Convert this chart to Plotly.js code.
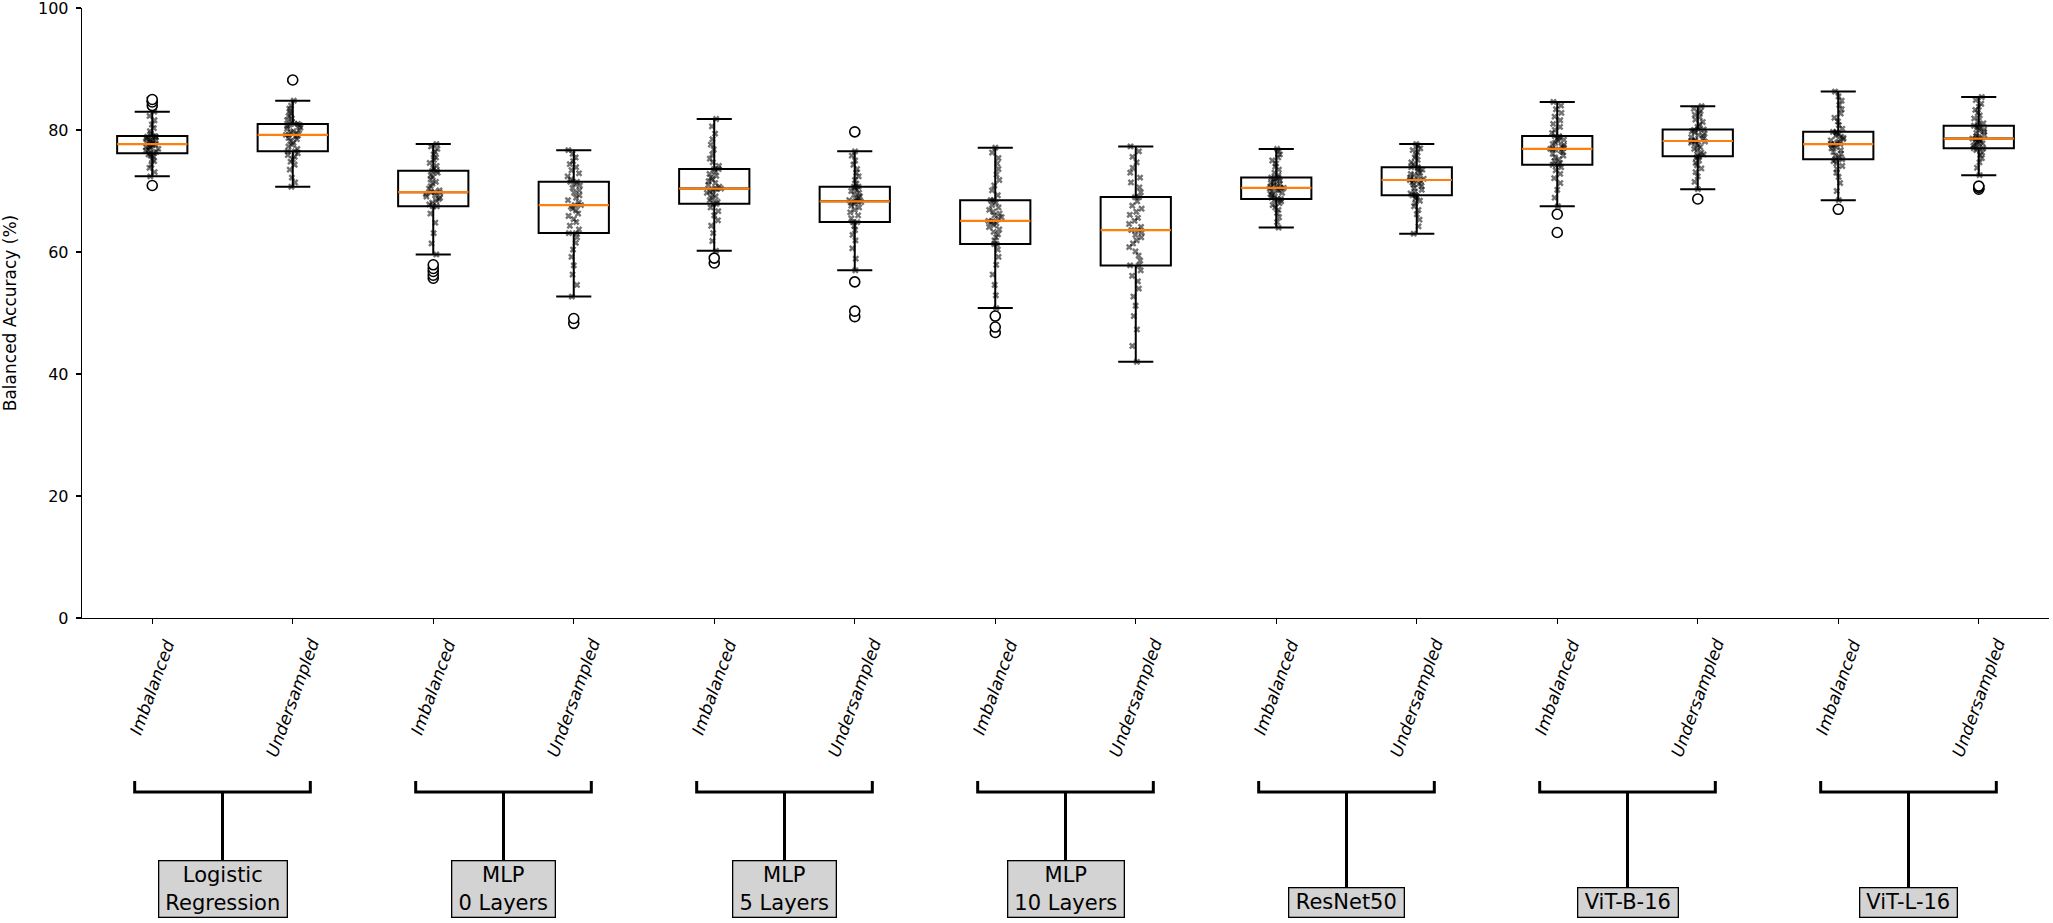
<!DOCTYPE html>
<html>
<head>
<meta charset="utf-8">
<script src="https://cdn.plot.ly/plotly-3.0.1.min.js"></script>
<style>html,body{margin:0;padding:0;background:#fff}</style>
</head>
<body>
<div id="chart" style="width:2053px;height:923px"></div>
<script>
// Model families (one bracket each) and the two training conditions per family
const modelNames = ['Logistic<br>Regression', 'MLP<br>0 Layers', 'MLP<br>5 Layers', 'MLP<br>10 Layers', 'ResNet50', 'ViT-B-16', 'ViT-L-16'];
const conditionNames = ['Imbalanced', 'Undersampled'];
const yTickValues = [0, 20, 40, 60, 80, 100];

// Balanced accuracy (%) per run
const logRegImbalanced = [70.9, 72.4, 73.1, 73.8, 74.3, 74.9, 75.2, 75.6, 75.8, 76.0, 76.2, 76.2, 76.4, 76.6, 76.8, 76.9, 77.1, 77.2, 77.3, 77.5, 77.6, 77.7, 77.7, 77.9, 78.0, 78.2, 78.3, 78.4, 78.6, 78.7, 78.8, 78.9, 79.0, 79.0, 79.4, 79.8, 80.3, 80.9, 81.6, 82.3, 83.0, 84.0, 84.6, 85.0];
const logRegUndersampled = [70.7, 71.4, 72.2, 73.5, 74.3, 74.8, 75.2, 75.6, 75.9, 76.2, 76.5, 76.5, 76.9, 77.3, 77.6, 77.9, 78.2, 78.5, 78.7, 78.9, 79.1, 79.2, 79.2, 79.4, 79.6, 79.8, 80.0, 80.2, 80.4, 80.6, 80.8, 80.9, 81.0, 81.0, 81.3, 81.6, 81.9, 82.3, 82.7, 83.1, 83.5, 84.0, 84.8, 88.2];
const mlp0Imbalanced = [55.7, 56.2, 56.8, 57.3, 57.9, 59.6, 61.4, 63.1, 64.8, 66.3, 67.5, 67.5, 67.8, 68.1, 68.4, 68.7, 68.9, 69.1, 69.3, 69.5, 69.7, 69.8, 69.8, 70.1, 70.4, 70.8, 71.2, 71.5, 71.9, 72.3, 72.6, 73.0, 73.3, 73.3, 73.7, 74.1, 74.6, 75.1, 75.5, 76.0, 76.4, 76.9, 77.3, 77.7];
const mlp0Undersampled = [48.3, 49.1, 52.7, 54.6, 56.3, 57.8, 59.2, 60.4, 61.5, 62.4, 63.1, 63.1, 63.7, 64.3, 64.9, 65.4, 65.9, 66.3, 66.8, 67.1, 67.4, 67.7, 67.7, 68.1, 68.5, 68.9, 69.3, 69.7, 70.1, 70.5, 70.9, 71.2, 71.5, 71.5, 71.9, 72.4, 72.9, 73.4, 73.9, 74.4, 74.9, 75.5, 76.1, 76.7];
const mlp5Imbalanced = [58.2, 59.0, 60.2, 61.8, 63.1, 64.3, 65.2, 66.0, 66.7, 67.3, 67.9, 67.9, 68.2, 68.5, 68.8, 69.1, 69.4, 69.7, 69.9, 70.1, 70.3, 70.4, 70.4, 70.7, 71.0, 71.3, 71.6, 71.9, 72.2, 72.5, 72.8, 73.2, 73.6, 73.6, 74.1, 74.7, 75.3, 76.0, 76.8, 77.6, 78.5, 79.4, 80.6, 81.8];
const mlp5Undersampled = [49.4, 50.3, 55.1, 57.0, 58.9, 60.6, 61.9, 62.8, 63.6, 64.3, 64.9, 64.9, 65.5, 66.0, 66.5, 66.9, 67.3, 67.6, 67.9, 68.1, 68.2, 68.3, 68.3, 68.5, 68.7, 68.9, 69.1, 69.4, 69.7, 70.0, 70.2, 70.5, 70.7, 70.7, 71.2, 71.8, 72.4, 73.0, 73.6, 74.3, 75.0, 75.8, 76.5, 79.7];
const mlp10Imbalanced = [46.8, 47.7, 49.5, 50.8, 52.9, 54.6, 56.3, 57.9, 59.2, 60.4, 61.3, 61.3, 61.9, 62.4, 62.9, 63.3, 63.7, 64.1, 64.4, 64.7, 64.9, 65.1, 65.1, 65.4, 65.7, 66.0, 66.3, 66.6, 66.9, 67.3, 67.7, 68.1, 68.5, 68.5, 69.3, 70.1, 70.9, 71.8, 72.7, 73.6, 74.5, 75.4, 76.3, 77.1];
const mlp10Undersampled = [42.0, 44.6, 47.3, 49.5, 51.2, 52.7, 54.0, 55.2, 56.1, 57.0, 57.8, 57.8, 58.6, 59.4, 60.1, 60.8, 61.4, 61.9, 62.4, 62.8, 63.2, 63.6, 63.6, 64.1, 64.6, 65.1, 65.6, 66.1, 66.6, 67.1, 67.6, 68.3, 69.0, 69.0, 69.8, 70.6, 71.4, 72.2, 73.0, 73.8, 74.7, 75.6, 76.5, 77.3];
const resnetImbalanced = [64.0, 64.9, 65.7, 66.4, 66.9, 67.3, 67.7, 68.0, 68.3, 68.5, 68.7, 68.7, 68.9, 69.1, 69.3, 69.5, 69.7, 69.9, 70.1, 70.2, 70.4, 70.5, 70.5, 70.7, 70.8, 71.0, 71.2, 71.3, 71.5, 71.7, 71.9, 72.1, 72.2, 72.2, 72.6, 73.0, 73.5, 74.0, 74.5, 75.0, 75.5, 76.0, 76.5, 76.9];
const resnetUndersampled = [63.0, 64.2, 65.3, 66.2, 66.9, 67.5, 68.0, 68.4, 68.8, 69.1, 69.3, 69.3, 69.6, 69.9, 70.2, 70.5, 70.8, 71.0, 71.2, 71.4, 71.6, 71.8, 71.8, 72.0, 72.2, 72.4, 72.6, 72.8, 73.0, 73.3, 73.5, 73.7, 73.9, 73.9, 74.3, 74.7, 75.1, 75.5, 75.9, 76.3, 76.7, 77.0, 77.4, 77.7];
const vitBImbalanced = [63.2, 66.2, 67.5, 68.9, 70.2, 71.3, 72.1, 72.8, 73.4, 73.9, 74.3, 74.3, 74.6, 74.9, 75.2, 75.5, 75.8, 76.1, 76.4, 76.6, 76.8, 76.9, 76.9, 77.1, 77.3, 77.5, 77.7, 77.9, 78.2, 78.4, 78.6, 78.8, 79.0, 79.0, 79.5, 80.0, 80.5, 81.0, 81.6, 82.2, 82.8, 83.4, 84.0, 84.6];
const vitBUndersampled = [68.7, 70.3, 71.5, 72.4, 73.1, 73.7, 74.2, 74.6, 75.0, 75.4, 75.7, 75.7, 76.0, 76.3, 76.6, 76.9, 77.2, 77.5, 77.7, 77.9, 78.1, 78.2, 78.2, 78.4, 78.6, 78.8, 79.0, 79.2, 79.4, 79.6, 79.8, 80.0, 80.1, 80.1, 80.5, 80.9, 81.3, 81.7, 82.1, 82.5, 82.8, 83.1, 83.5, 83.9];
const vitLImbalanced = [67.0, 68.5, 70.0, 71.3, 72.3, 73.0, 73.6, 74.1, 74.5, 74.9, 75.2, 75.2, 75.5, 75.8, 76.1, 76.4, 76.7, 77.0, 77.2, 77.4, 77.6, 77.7, 77.7, 77.9, 78.1, 78.3, 78.5, 78.7, 78.9, 79.1, 79.3, 79.5, 79.7, 79.7, 80.2, 80.8, 81.4, 82.0, 82.7, 83.4, 84.1, 84.8, 85.5, 86.3];
const vitLUndersampled = [70.3, 70.6, 70.8, 72.6, 73.8, 74.7, 75.4, 75.9, 76.3, 76.7, 77.0, 77.0, 77.2, 77.4, 77.6, 77.8, 77.9, 78.1, 78.2, 78.4, 78.5, 78.6, 78.6, 78.8, 79.0, 79.2, 79.5, 79.7, 79.9, 80.1, 80.3, 80.5, 80.7, 80.7, 81.1, 81.5, 81.9, 82.4, 82.8, 83.3, 83.8, 84.3, 84.9, 85.4];

const allRuns = [
  logRegImbalanced, logRegUndersampled,
  mlp0Imbalanced, mlp0Undersampled,
  mlp5Imbalanced, mlp5Undersampled,
  mlp10Imbalanced, mlp10Undersampled,
  resnetImbalanced, resnetUndersampled,
  vitBImbalanced, vitBUndersampled,
  vitLImbalanced, vitLUndersampled
];

// ---- layout geometry (pixels) ----
const W = 2053, H = 923;
const margin = {l: 82, r: 4, t: 8, b: 305};
const plotBottom = H - margin.b;
const plotHeight = H - margin.t - margin.b;
const paperY = px => (plotBottom - px) / plotHeight;

// ---- flatten runs into box-trace arrays ----
const positions = allRuns.map((_, i) => i + 1);
const xs = [], ys = [];
allRuns.forEach((runs, i) => runs.forEach(v => { xs.push(i + 1); ys.push(v); }));

function median(arr) {
  const s = arr.slice().sort((a, b) => a - b);
  const m = s.length / 2;
  return s.length % 2 ? s[Math.floor(m)] : (s[m - 1] + s[m]) / 2;
}
const medians = allRuns.map(median);

const traces = [
  // jittered individual runs
  {
    type: 'box', x: xs, y: ys, width: 0.5,
    boxpoints: 'all', jitter: 0.22, pointpos: 0,
    fillcolor: 'rgba(0,0,0,0)', line: {color: 'rgba(0,0,0,0)', width: 0},
    marker: {symbol: 'x', size: 6, color: 'black', opacity: 0.55},
    hoverinfo: 'skip', showlegend: false
  },
  // boxes, whiskers and outliers
  {
    type: 'box', x: xs, y: ys, width: 0.5, whiskerwidth: 0.5,
    boxpoints: 'outliers', jitter: 0, pointpos: 0,
    fillcolor: 'rgba(0,0,0,0)', line: {color: 'black', width: 2},
    marker: {symbol: 'circle', size: 10, color: 'white', line: {color: 'black', width: 1.6}},
    hoverinfo: 'skip', showlegend: false
  },
  // orange median lines
  {
    type: 'box', x: positions, q1: medians, median: medians, q3: medians,
    lowerfence: medians, upperfence: medians,
    width: 0.5, whiskerwidth: 0, boxpoints: false,
    fillcolor: 'rgba(0,0,0,0)', line: {color: '#ff7f0e', width: 2.2},
    hoverinfo: 'skip', showlegend: false
  }
];

// ---- condition labels under every tick ----
const annotations = [];
positions.forEach((p, i) => {
  annotations.push({
    x: p, xref: 'x', y: paperY(634), yref: 'paper',
    text: '<i>' + conditionNames[i % 2] + '</i>',
    textangle: -70, xanchor: 'center', yanchor: 'top',
    showarrow: false, font: {size: 17, color: 'black'}
  });
});

// ---- group brackets with model-name boxes ----
const labelFontSize = 21;
const measureCtx = document.createElement('canvas').getContext('2d');
measureCtx.font = labelFontSize + 'px "DejaVu Sans"';
const textWidth = s => Math.max(...s.split('<br>').map(line => measureCtx.measureText(line).width));

const shapes = [];
const bracketY = 792, bracketTip = 781, stemEnd = 905, halfSpan = 0.625;
modelNames.forEach((name, g) => {
  const c = 2 * g + 1.5;
  shapes.push({
    type: 'path', xref: 'x', yref: 'paper',
    path: 'M' + (c - halfSpan) + ',' + paperY(bracketTip) +
          ' L' + (c - halfSpan) + ',' + paperY(bracketY) +
          ' L' + (c + halfSpan) + ',' + paperY(bracketY) +
          ' L' + (c + halfSpan) + ',' + paperY(bracketTip),
    line: {color: 'black', width: 3}
  });
  shapes.push({
    type: 'line', xref: 'x', yref: 'paper',
    x0: c, x1: c, y0: paperY(bracketY), y1: paperY(stemEnd),
    line: {color: 'black', width: 3}
  });
  annotations.push({
    x: c, xref: 'x', y: paperY(918), yref: 'paper',
    text: name, xanchor: 'center', yanchor: 'bottom', align: 'center',
    width: Math.ceil(textWidth(name)) + 8,
    showarrow: false, bgcolor: '#d3d3d3', bordercolor: 'black',
    borderwidth: 1.3, borderpad: 2, font: {size: labelFontSize, color: 'black'}
  });
});

const layout = {
  width: W, height: H, margin: margin,
  paper_bgcolor: 'white', plot_bgcolor: 'white',
  font: {family: 'DejaVu Sans', color: 'black'},
  showlegend: false, boxmode: 'overlay',
  xaxis: {
    range: [0.5, 14.5], tickvals: positions, showticklabels: false,
    ticks: 'outside', ticklen: 5, tickwidth: 1.3, tickcolor: 'black',
    showline: true, linecolor: 'black', linewidth: 1.3,
    showgrid: false, zeroline: false, automargin: false, fixedrange: true
  },
  yaxis: {
    range: [0, 100], tickvals: yTickValues,
    ticks: 'outside', ticklen: 5, tickwidth: 1.3, tickcolor: 'black',
    tickfont: {size: 16}, ticklabelstandoff: 4, ticklabeloverflow: 'allow',
    showline: true, linecolor: 'black', linewidth: 1.3,
    showgrid: false, zeroline: false, automargin: false,
    title: {text: 'Balanced Accuracy (%)', font: {size: 17}, standoff: 25}
  },
  shapes: shapes,
  annotations: annotations
};

Plotly.newPlot('chart', traces, layout, {staticPlot: true, displayModeBar: false});
</script>
</body>
</html>
